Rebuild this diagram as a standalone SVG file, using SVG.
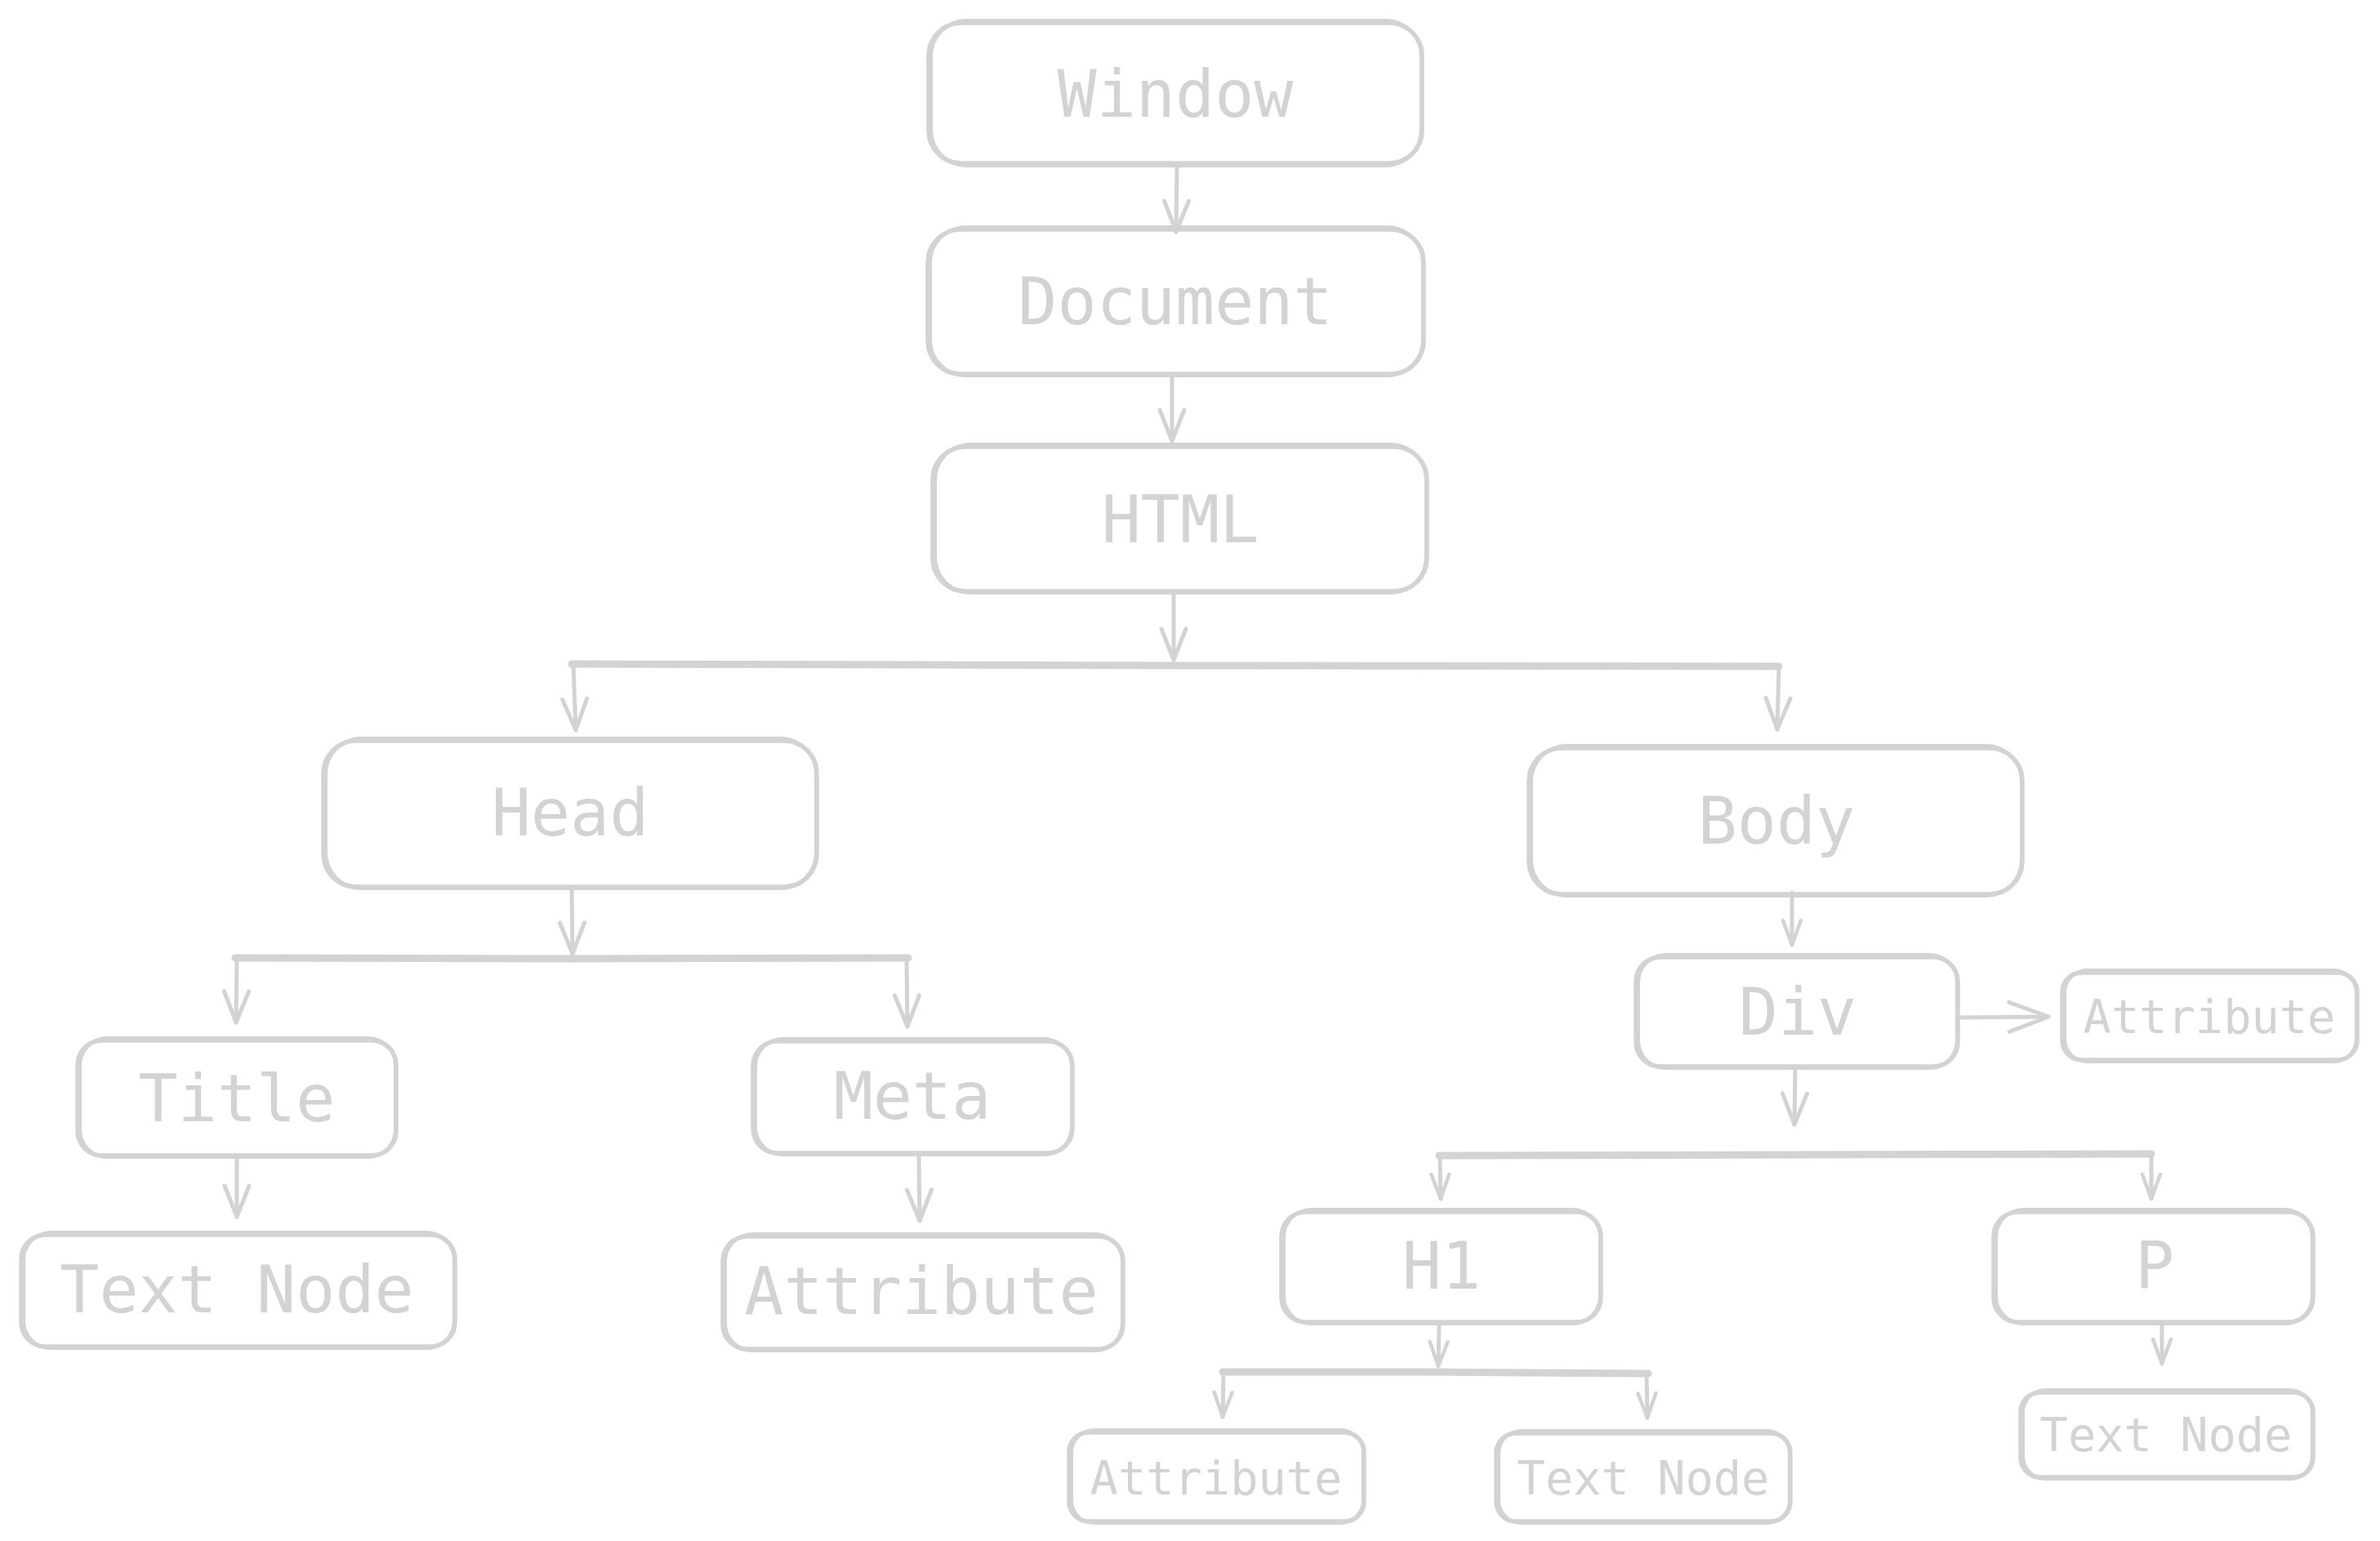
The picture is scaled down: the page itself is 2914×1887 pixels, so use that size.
<svg xmlns="http://www.w3.org/2000/svg" width="2914" height="1887" viewBox="0 0 2914 1887">
<defs>
<style>
.b{fill:none;stroke:#d3d3d3;stroke-width:5.5;stroke-linecap:round;stroke-linejoin:round}
.b2{fill:none;stroke:#d3d3d3;stroke-width:4;stroke-linecap:round;stroke-linejoin:round}
.t{font-family:"DejaVu Sans Mono","Liberation Mono",monospace;fill:#d3d3d3;text-anchor:middle;font-size:80px}
.s{font-size:57px}
.c{fill:none;stroke:#d3d3d3;stroke-width:5;stroke-linecap:round;stroke-linejoin:round}
.bar{fill:none;stroke:#d3d3d3;stroke-width:9;stroke-linecap:round}
</style>
<marker id="aL" markerUnits="userSpaceOnUse" viewBox="0 0 50 40" markerWidth="50" markerHeight="40" refX="44" refY="20" orient="auto">
<path d="M6,5 L44,20 L6,35" fill="none" stroke="#d3d3d3" stroke-width="5" stroke-linecap="round" stroke-linejoin="round"/>
</marker>
<marker id="aS" markerUnits="userSpaceOnUse" viewBox="0 0 40 30" markerWidth="40" markerHeight="30" refX="34" refY="15" orient="auto">
<path d="M4,4 L34,15 L4,26" fill="none" stroke="#d3d3d3" stroke-width="4.5" stroke-linecap="round" stroke-linejoin="round"/>
</marker>
<marker id="aX" markerUnits="userSpaceOnUse" viewBox="0 0 60 44" markerWidth="60" markerHeight="44" refX="54" refY="22" orient="auto">
<path d="M6,4 L54,22 L6,40" fill="none" stroke="#d3d3d3" stroke-width="5" stroke-linecap="round" stroke-linejoin="round"/>
</marker>
</defs>
<rect width="2914" height="1887" fill="#ffffff"/>

<g id="connectors">
<path class="c" d="M1441,203 L1440,284" marker-end="url(#aL)"/>
<path class="c" d="M1435,461 L1435,540" marker-end="url(#aL)"/>
<path class="c" d="M1437,726 L1437,808" marker-end="url(#aL)"/>
<path class="bar" d="M700,813 L1440,815 L2178,816"/>
<path class="c" d="M702,815 L705,894" marker-end="url(#aL)"/>
<path class="c" d="M2178,816 L2176,893" marker-end="url(#aL)"/>
<path class="c" d="M700,1087 L701,1168" marker-end="url(#aL)"/>
<path class="bar" d="M288,1173 L700,1174 L1112,1173"/>
<path class="c" d="M290,1175 L289,1252" marker-end="url(#aL)"/>
<path class="c" d="M1110,1175 L1111,1257" marker-end="url(#aL)"/>
<path class="c" d="M290,1417 L290,1490" marker-end="url(#aL)"/>
<path class="c" d="M1125,1413 L1126,1495" marker-end="url(#aL)"/>
<path class="c" d="M2194,1093 L2194,1157" marker-end="url(#aS)"/>
<path class="c" d="M2400,1246 L2508,1245" marker-end="url(#aX)"/>
<path class="c" d="M2198,1308 L2197,1377" marker-end="url(#aL)"/>
<path class="bar" d="M1762,1415 L2200,1414 L2634,1413"/>
<path class="c" d="M1763,1416 L1764,1468" marker-end="url(#aS)"/>
<path class="c" d="M2634,1414 L2634,1468" marker-end="url(#aS)"/>
<path class="c" d="M1762,1621 L1761,1673" marker-end="url(#aS)"/>
<path class="bar" d="M1497,1680 L1760,1680 L2018,1682"/>
<path class="c" d="M1498,1682 L1497,1735" marker-end="url(#aS)"/>
<path class="c" d="M2016,1683 L2017,1736" marker-end="url(#aS)"/>
<path class="c" d="M2647,1621 L2647,1670" marker-end="url(#aS)"/>
</g>

<g id="window">
<rect class="b" x="1137" y="28" width="604" height="172" rx="40"/>
<rect class="b2" x="1140" y="25" width="600" height="178" rx="44"/>
<text class="t" x="1439" y="143">Window</text>
</g>
<g id="document">
<rect class="b" x="1136" y="281" width="607" height="177" rx="40"/>
<rect class="b2" x="1139" y="278" width="603" height="182" rx="44"/>
<text class="t" x="1439" y="397">Document</text>
</g>
<g id="html">
<rect class="b" x="1142" y="547" width="605" height="177" rx="40"/>
<rect class="b2" x="1145" y="544" width="601" height="182" rx="44"/>
<text class="t" x="1445" y="664">HTML</text>
</g>
<g id="head">
<rect class="b" x="396" y="907" width="604" height="179" rx="40"/>
<rect class="b2" x="399" y="904" width="600" height="184" rx="44"/>
<text class="t" x="698" y="1023">Head</text>
</g>
<g id="body">
<rect class="b" x="1872" y="916" width="604" height="179" rx="40"/>
<rect class="b2" x="1875" y="913" width="600" height="184" rx="44"/>
<text class="t" x="2175" y="1033">Body</text>
</g>
<g id="title">
<rect class="b" x="95" y="1274" width="390" height="141" rx="30"/>
<rect class="b2" x="98" y="1271" width="386" height="146" rx="34"/>
<text class="t" x="290" y="1373">Title</text>
</g>
<g id="meta">
<rect class="b" x="922" y="1275" width="391" height="137" rx="30"/>
<rect class="b2" x="925" y="1272" width="387" height="142" rx="34"/>
<text class="t" x="1117" y="1370">Meta</text>
</g>
<g id="head-text-node">
<rect class="b" x="26" y="1512" width="531" height="137" rx="30"/>
<rect class="b2" x="29" y="1509" width="527" height="142" rx="34"/>
<text class="t" x="290" y="1607">Text Node</text>
</g>
<g id="meta-attribute">
<rect class="b" x="885" y="1514" width="490" height="138" rx="30"/>
<rect class="b2" x="888" y="1511" width="486" height="143" rx="34"/>
<text class="t" x="1128" y="1609">Attribute</text>
</g>
<g id="div">
<rect class="b" x="2003" y="1172" width="394" height="134" rx="30"/>
<rect class="b2" x="2006" y="1169" width="390" height="139" rx="34"/>
<text class="t" x="2201" y="1267">Div</text>
</g>
<g id="div-attribute">
<rect class="b" x="2525" y="1191" width="361" height="107" rx="24"/>
<rect class="b2" x="2528" y="1188" width="357" height="112" rx="28"/>
<text class="t s" x="2705" y="1265">Attribute</text>
</g>
<g id="h1">
<rect class="b" x="1569" y="1484" width="391" height="135" rx="30"/>
<rect class="b2" x="1572" y="1481" width="387" height="140" rx="34"/>
<text class="t" x="1765" y="1578">H1</text>
</g>
<g id="p">
<rect class="b" x="2441" y="1484" width="391" height="135" rx="30"/>
<rect class="b2" x="2444" y="1481" width="387" height="140" rx="34"/>
<text class="t" x="2638" y="1578">P</text>
</g>
<g id="h1-attribute">
<rect class="b" x="1309" y="1754" width="361" height="109" rx="24"/>
<rect class="b2" x="1312" y="1751" width="357" height="114" rx="28"/>
<text class="t s" x="1489" y="1830">Attribute</text>
</g>
<g id="h1-text-node">
<rect class="b" x="1832" y="1755" width="360" height="108" rx="24"/>
<rect class="b2" x="1835" y="1752" width="356" height="113" rx="28"/>
<text class="t s" x="2012" y="1830">Text Node</text>
</g>
<g id="p-text-node">
<rect class="b" x="2474" y="1705" width="358" height="104" rx="24"/>
<rect class="b2" x="2477" y="1702" width="354" height="109" rx="28"/>
<text class="t s" x="2652" y="1777">Text Node</text>
</g>
</svg>
